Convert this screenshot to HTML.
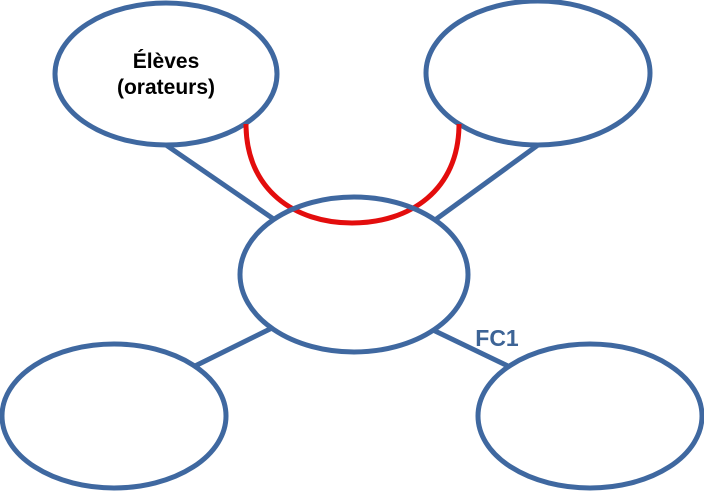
<!DOCTYPE html>
<html><head><style>body{margin:0;background:#fff}svg{display:block}</style></head><body>
<svg width="704" height="492" viewBox="0 0 704 492" xmlns="http://www.w3.org/2000/svg">
<g stroke="#3f68a0" stroke-width="5" fill="none">
<line x1="166" y1="145" x2="275" y2="220"/>
<line x1="538" y1="145" x2="435" y2="220"/>
<line x1="272" y1="328" x2="193" y2="367"/>
<line x1="433" y1="330" x2="510" y2="367"/>
</g>
<g stroke="#3f68a0" stroke-width="5" fill="#fff">
<ellipse cx="166" cy="74" rx="111" ry="71"/>
<ellipse cx="538" cy="73" rx="112" ry="72"/>
<ellipse cx="114" cy="416" rx="112" ry="72"/>
<ellipse cx="590" cy="416" rx="112" ry="72"/>
</g>
<path d="M246,124 C246,190 295,223 352,223 C410,223 459,190 459,124" stroke="#e30d0d" stroke-width="5" fill="none"/>
<ellipse cx="354" cy="274.5" rx="114" ry="77.5" stroke="#3f68a0" stroke-width="5" fill="none"/>
<g font-family="Liberation Sans, sans-serif" font-weight="bold" font-size="21" text-anchor="middle">
<text x="166" y="68" fill="#000">Élèves</text>
<text x="166" y="94" fill="#000">(orateurs)</text>
<text x="497" y="346" fill="#3d6496" font-size="23">FC1</text>
</g>
</svg>
</body></html>
